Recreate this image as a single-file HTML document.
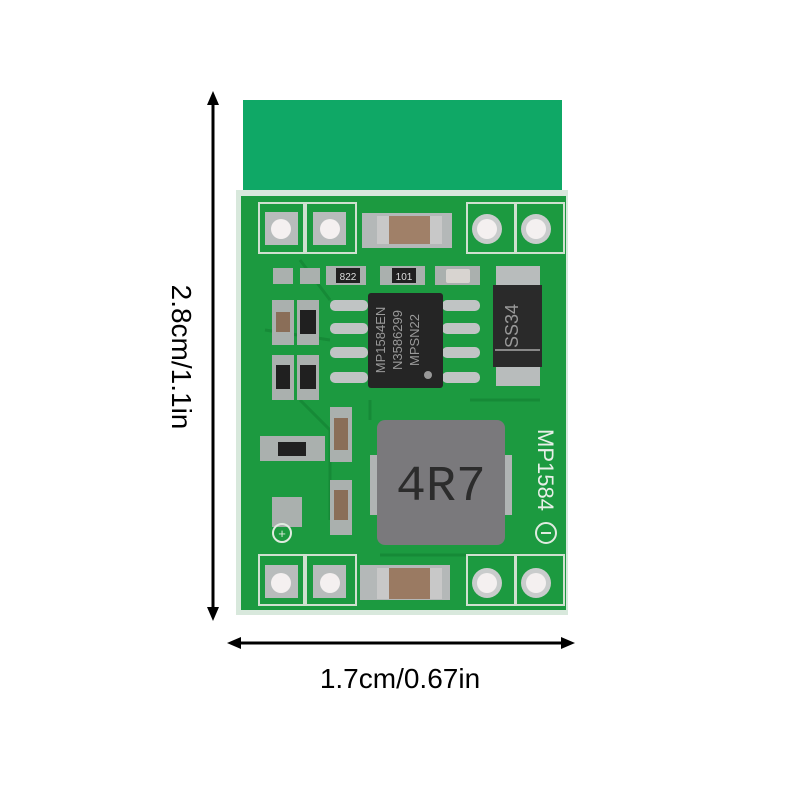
<!DOCTYPE html>
<html><head><style>
body{margin:0;background:#fff;width:800px;height:800px;overflow:hidden}
</style></head><body>
<svg width="800" height="800" viewBox="0 0 800 800" xmlns="http://www.w3.org/2000/svg" font-family="Liberation Sans, sans-serif">
<defs>
<marker id="a" markerWidth="14" markerHeight="12" refX="7" refY="6" orient="auto-start-reverse" markerUnits="userSpaceOnUse"><path d="M0,0 L14,6 L0,12 z" fill="#000"/></marker>
</defs>
<line x1="213" y1="98" x2="213" y2="614" stroke="#000" stroke-width="3" marker-start="url(#a)" marker-end="url(#a)"/>
<line x1="234" y1="643" x2="568" y2="643" stroke="#000" stroke-width="3" marker-start="url(#a)" marker-end="url(#a)"/>
<text x="400" y="688" font-size="28" text-anchor="middle" fill="#000">1.7cm/0.67in</text>
<text transform="translate(172,357) rotate(90)" font-size="28" text-anchor="middle" fill="#000">2.8cm/1.1in</text>
<rect x="243" y="100" width="319" height="90" fill="#0fa866"/>
<rect x="236" y="190" width="332" height="425" fill="#d8e8dc"/>
<rect x="241" y="196" width="325" height="414" fill="#1c9a40"/>
<g stroke="#168a37" stroke-width="3" fill="none">
<path d="M300 260 L330 300 M265 330 L330 340 M300 400 L330 430 L330 520 M370 400 L370 420 M470 400 L540 400 M380 555 L520 555"/>
</g>
<g fill="none" stroke="#d0e0d0" stroke-width="2">
<rect x="259" y="203" width="45" height="50"/><rect x="306" y="203" width="50" height="50"/>
<rect x="467" y="203" width="48" height="50"/><rect x="516" y="203" width="48" height="50"/>
<rect x="259" y="555" width="45" height="50"/><rect x="306" y="555" width="50" height="50"/>
<rect x="467" y="555" width="48" height="50"/><rect x="516" y="555" width="48" height="50"/>
</g>
<g fill="#b8bcbc">
<rect x="265" y="212" width="33" height="33"/><rect x="313" y="212" width="33" height="33"/>
<rect x="265" y="565" width="33" height="33"/><rect x="313" y="565" width="33" height="33"/>
</g>
<g fill="#c9cccc"><circle cx="487" cy="229" r="15"/><circle cx="536" cy="229" r="15"/><circle cx="487" cy="583" r="15"/><circle cx="536" cy="583" r="15"/></g>
<g fill="#f4f0f0"><circle cx="281" cy="229" r="10"/><circle cx="330" cy="229" r="10"/><circle cx="487" cy="229" r="10"/><circle cx="536" cy="229" r="10"/>
<circle cx="281" cy="583" r="10"/><circle cx="330" cy="583" r="10"/><circle cx="487" cy="583" r="10"/><circle cx="536" cy="583" r="10"/></g>
<rect x="362" y="213" width="90" height="35" fill="#b4b8b8"/>
<rect x="377" y="216" width="65" height="28" rx="3" fill="#a08068"/>
<rect x="377" y="216" width="12" height="28" fill="#c8c8c8"/><rect x="430" y="216" width="12" height="28" fill="#c8c8c8"/>
<rect x="360" y="565" width="90" height="35" fill="#b4b8b8"/>
<rect x="377" y="568" width="65" height="31" rx="3" fill="#9a7a62"/>
<rect x="377" y="568" width="12" height="31" fill="#c8c8c8"/><rect x="430" y="568" width="12" height="31" fill="#c8c8c8"/>
<g fill="#aab0ae"><rect x="273" y="268" width="20" height="16"/><rect x="300" y="268" width="20" height="16"/><rect x="326" y="266" width="40" height="19"/><rect x="380" y="266" width="45" height="19"/><rect x="435" y="266" width="45" height="19"/></g>
<rect x="336" y="268" width="24" height="15" fill="#202020"/><text x="348" y="280" font-size="10" fill="#ddd" text-anchor="middle">822</text>
<rect x="392" y="268" width="24" height="15" fill="#202020"/><text x="404" y="280" font-size="10" fill="#ddd" text-anchor="middle">101</text>
<rect x="446" y="269" width="24" height="14" rx="2" fill="#d8d4d0"/>
<g fill="#aab0ae"><rect x="272" y="300" width="22" height="45"/><rect x="297" y="300" width="22" height="45"/><rect x="272" y="355" width="22" height="45"/><rect x="297" y="355" width="22" height="45"/><rect x="260" y="436" width="65" height="25"/><rect x="330" y="407" width="22" height="55"/><rect x="330" y="480" width="22" height="55"/><rect x="272" y="497" width="30" height="30"/></g>
<rect x="276" y="312" width="14" height="20" fill="#8a6e58"/>
<rect x="300" y="310" width="16" height="24" fill="#202020"/>
<rect x="276" y="365" width="14" height="24" fill="#202020"/>
<rect x="300" y="365" width="16" height="24" fill="#202020"/>
<rect x="278" y="442" width="28" height="14" fill="#202020"/>
<rect x="334" y="418" width="14" height="32" fill="#8a6e58"/>
<rect x="334" y="490" width="14" height="30" fill="#8a6e58"/>
<g fill="#c0c4c4">
<rect x="330" y="300" width="38" height="11" rx="5"/><rect x="330" y="323" width="38" height="11" rx="5"/><rect x="330" y="347" width="38" height="11" rx="5"/><rect x="330" y="372" width="38" height="11" rx="5"/>
<rect x="442" y="300" width="38" height="11" rx="5"/><rect x="442" y="323" width="38" height="11" rx="5"/><rect x="442" y="347" width="38" height="11" rx="5"/><rect x="442" y="372" width="38" height="11" rx="5"/>
</g>
<rect x="368" y="293" width="75" height="95" rx="3" fill="#252525"/>
<g transform="translate(405,340) rotate(-90)" fill="#9a9a9a" font-size="13" text-anchor="middle">
<text y="-20">MP1584EN</text><text y="-3">N3586299</text><text y="14">MPSN22</text></g>
<circle cx="428" cy="375" r="4" fill="#999"/>
<rect x="496" y="266" width="44" height="120" fill="#b8bcbc"/>
<rect x="493" y="285" width="49" height="82" fill="#2a2a2a"/>
<text transform="translate(518,326) rotate(-90)" font-size="18" fill="#999" text-anchor="middle">SS34</text>
<line x1="495" y1="350" x2="540" y2="350" stroke="#888" stroke-width="2"/>
<rect x="370" y="455" width="142" height="60" fill="#b0b4b4"/>
<rect x="377" y="420" width="128" height="125" rx="8" fill="#7a797c"/>
<text x="441" y="500" font-size="50" fill="#2c2c2c" text-anchor="middle" font-family="Liberation Mono, monospace">4R7</text>
<text transform="translate(538,470) rotate(90)" font-size="22" fill="#e8efe8" text-anchor="middle">MP1584</text>
<circle cx="282" cy="533" r="9" fill="none" stroke="#e0ebe0" stroke-width="2"/><text x="282" y="538" font-size="13" fill="#e0ebe0" text-anchor="middle">+</text>
<circle cx="546" cy="533" r="10" fill="none" stroke="#e0ebe0" stroke-width="2"/><line x1="541" y1="533" x2="551" y2="533" stroke="#e0ebe0" stroke-width="2"/>
</svg>
</body></html>
